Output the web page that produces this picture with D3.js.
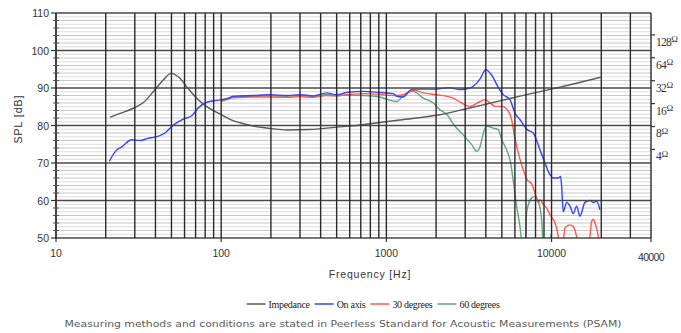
<!DOCTYPE html>
<html><head><meta charset="utf-8">
<script src="https://cdn.jsdelivr.net/npm/d3@7"></script>
<style>body{margin:0;background:#fff}svg{display:block}</style>
</head><body><svg id="c" width="681" height="333"></svg>
<script>
// ---- data ----
const xTickValues = [10, 100, 1000, 10000, 40000];
const yTickValues = [50, 60, 70, 80, 90, 100, 110];
const zTickValues = [4, 8, 16, 32, 64, 128];
const legendLabels = ["Impedance", "On axis", "30 degrees", "60 degrees"];

const impFreq = [21.2, 24.4, 29.4, 33.8, 38.8, 44.6, 49.7, 56.3, 61.8, 71.1, 81.7, 98.3, 113, 130, 156, 197, 249, 345, 500, 631, 796, 1209, 2100, 3100, 4050, 5865, 7400, 11240, 19820];
const impOhm  = [10.6, 11.9, 13.9, 16.5, 22.9, 32.7, 40.0, 34.4, 26.7, 18.8, 14.6, 11.7, 9.95, 8.97, 8.12, 7.57, 7.2, 7.3, 7.85, 8.15, 8.7, 9.75, 11.4, 13.8, 15.8, 19.1, 21.5, 26.3, 35.5];

const onFreq = [21, 22, 23.3, 25, 28.7, 32.3, 36.2, 39.7, 45.7, 51.3, 59, 66.3, 72.7, 81.7, 93.9, 110, 118, 156, 197, 249, 300, 361, 435, 500, 575, 725, 915, 1101, 1154, 1266, 1390, 1455, 2016, 2400, 2789, 3207, 3526, 3700, 4000, 4243, 4443, 4659, 4994, 5107, 5601, 6004, 6437, 7128, 7750, 8509, 9120, 9780, 10240, 10978, 11350, 11510, 11770, 12342, 12923, 13531, 14186, 14855, 15930, 17078, 17881, 18750, 19630];
const onDb   = [70.4, 72, 73.5, 74.3, 76.2, 76.0, 76.6, 76.9, 78.0, 80.1, 81.7, 82.6, 84.7, 86.2, 86.7, 87.1, 87.8, 88.0, 88.2, 88.0, 88.2, 87.9, 88.7, 88.2, 88.8, 89.1, 88.8, 88.5, 87.8, 87.6, 89.4, 89.7, 89.7, 90.1, 89.6, 90.0, 91.3, 92.5, 94.9, 94.0, 92.7, 90.9, 88.7, 88.2, 86.9, 83.3, 81.6, 78.9, 78.0, 73.5, 70.0, 66.9, 66.0, 66.0, 66.4, 63.8, 57.0, 59.5, 58.5, 56.5, 58.5, 55.8, 59.5, 60.0, 59.5, 59.8, 57.5];

const d30Freq = [100, 118, 156, 197, 249, 300, 361, 435, 500, 575, 725, 915, 1101, 1154, 1266, 1390, 1455, 1673, 2016, 2541, 2856, 3207, 3692, 3958, 4243, 4550, 4994, 5478, 5735, 5921, 6284, 6741, 7128, 7581, 7936, 8310, 8509, 8909, 9340, 9780, 10486, 10978, 11240, 11770, 12054, 12923, 13531, 14186, 14855, 16680, 17078, 17486, 17881, 18310, 19170, 19630];
const d30Db   = [86.4, 87.4, 87.6, 87.6, 87.5, 87.7, 87.5, 88.0, 87.9, 88.2, 88.5, 88.3, 88.0, 88.0, 88.2, 89.0, 89.4, 88.7, 88.2, 87.3, 86.0, 85.1, 86.4, 86.9, 86.0, 85.1, 85.1, 83.8, 81.5, 78.0, 72.7, 68.2, 65.5, 64.5, 62.0, 59.5, 60.2, 59.0, 58.0, 56.2, 54.0, 50.4, 46, 49, 52.7, 53.5, 53.1, 50.4, 46, 46, 50.4, 54.4, 55.0, 54.0, 50.4, 45];

const d60Freq = [100, 118, 156, 197, 249, 300, 361, 435, 500, 575, 725, 915, 1004, 1154, 1266, 1327, 1455, 1673, 1922, 2111, 2317, 2602, 2921, 3284, 3526, 3692, 3866, 4053, 4443, 4763, 4994, 5350, 5655, 5921, 6149, 6437, 6646, 6900, 7069, 7581, 7936, 8310, 8710, 8909, 9550, 9900, 10240];
const d60Db   = [86.8, 87.6, 87.8, 87.9, 87.8, 88.0, 87.8, 88.3, 88.0, 88.1, 88.0, 87.6, 87.0, 86.4, 88.0, 88.7, 89.1, 87.3, 86.0, 84.2, 83.0, 79.8, 77.5, 74.9, 73.1, 74.4, 78.0, 79.8, 79.3, 78.9, 76.2, 73.5, 70.0, 63.8, 58.4, 53.1, 48, 46, 57, 60.7, 61.1, 59.8, 54.9, 48, 46, 50.8, 45];

// ---- layout ----
const X0 = 56, X1 = 651, Y0 = 13, Y1 = 238;
const svg = d3.select("#c");
const x = d3.scaleLog().domain([10, 40000]).range([X0, X1]);
const y = d3.scaleLinear().domain([50, 110]).range([Y1, Y0]);
const yz = d3.scaleLog().base(2).domain([0.2737, 248.4]).range([Y1, Y0]);

svg.append("defs").append("clipPath").attr("id", "clip")
  .append("rect").attr("x", X0).attr("y", Y0).attr("width", X1 - X0).attr("height", Y1 - Y0);

// minor horizontal grid
const minor = d3.range(51, 110).filter(v => v % 10 !== 0);
svg.append("g").selectAll("line").data(minor).join("line")
  .attr("x1", X0).attr("x2", X1).attr("y1", d => y(d)).attr("y2", d => y(d))
  .attr("stroke", d => d % 2 === 0 ? "#c8c8c8" : "#dcdcdc").attr("stroke-width", 1);

// curves
const lineDb = d3.line().x(d => x(d[0])).y(d => y(d[1])).curve(d3.curveMonotoneX);
const lineZ = d3.line().x(d => x(d[0])).y(d => yz(d[1])).curve(d3.curveMonotoneX);
const curves = svg.append("g").attr("clip-path", "url(#clip)").attr("fill", "none");
const colors = { imp: "#5a5a5a", on: "#3344ff", d30: "#ff5a50", d60: "#5fa582" };
curves.append("path").attr("d", lineDb(d60Freq.map((f, i) => [f, d60Db[i]]))).attr("stroke", colors.d60).attr("stroke-width", 1.4);
curves.append("path").attr("d", lineDb(d30Freq.map((f, i) => [f, d30Db[i]]))).attr("stroke", colors.d30).attr("stroke-width", 1.4);
curves.append("path").attr("d", lineDb(onFreq.map((f, i) => [f, onDb[i]]))).attr("stroke", colors.on).attr("stroke-width", 1.4);
curves.append("path").attr("d", lineZ(impFreq.map((f, i) => [f, impOhm[i]]))).attr("stroke", colors.imp).attr("stroke-width", 1.4);

// major horizontal grid
svg.append("g").selectAll("line").data(yTickValues).join("line")
  .attr("x1", X0).attr("x2", X1).attr("y1", d => y(d)).attr("y2", d => y(d))
  .attr("stroke", "#4a4a4a").attr("stroke-width", 1.6);

// vertical grid
svg.append("g").selectAll("line").data(x.ticks()).join("line")
  .attr("x1", d => x(d)).attr("x2", d => x(d)).attr("y1", Y0).attr("y2", Y1)
  .attr("stroke", "#2a2a2a").attr("stroke-width", 1.4);

// left axis
const gl = svg.append("g");
gl.append("line").attr("x1", X0).attr("x2", X0).attr("y1", Y0).attr("y2", Y1 + 1).attr("stroke", "#333").attr("stroke-width", 1.4);
gl.selectAll("line.mt").data(d3.range(52, 110, 2).filter(v => v % 10 !== 0)).join("line").attr("class", "mt")
  .attr("x1", X0 - 3).attr("x2", X0 + 3).attr("y1", d => y(d)).attr("y2", d => y(d)).attr("stroke", "#555").attr("stroke-width", 1);
gl.selectAll("line.Mt").data(yTickValues).join("line").attr("class", "Mt")
  .attr("x1", X0 - 5).attr("x2", X0).attr("y1", d => y(d)).attr("y2", d => y(d)).attr("stroke", "#333").attr("stroke-width", 1.2);
gl.selectAll("text").data(yTickValues).join("text")
  .attr("x", X0 - 7).attr("y", d => y(d) + 4).attr("text-anchor", "end")
  .attr("font-family", "Liberation Sans, Arial, sans-serif").attr("font-size", 10.5).attr("fill", "#333")
  .text(d => d);

// bottom axis
const gb = svg.append("g");
gb.selectAll("line").data(xTickValues).join("line")
  .attr("x1", d => x(d)).attr("x2", d => x(d)).attr("y1", Y1).attr("y2", Y1 + 4).attr("stroke", "#333").attr("stroke-width", 1.2);
gb.selectAll("text").data(xTickValues).join("text")
  .attr("x", d => x(d)).attr("y", d => d === 40000 ? 261 : 257).attr("text-anchor", "middle")
  .attr("font-family", "Liberation Sans, Arial, sans-serif").attr("font-size", 10.5).attr("fill", "#333")
  .attr("letter-spacing", d => d === 40000 ? -0.6 : 0)
  .text(d => d);

// right axis
const gr = svg.append("g");
gr.selectAll("line").data(zTickValues).join("line")
  .attr("x1", X1).attr("x2", X1 + 4).attr("y1", d => yz(d)).attr("y2", d => yz(d)).attr("stroke", "#333").attr("stroke-width", 1.2);
const rt = gr.selectAll("text").data(zTickValues).join("text")
  .attr("x", X1 + 5).attr("y", d => yz(d) + 11)
  .attr("font-family", "Liberation Serif, Times New Roman, serif").attr("font-size", 11.5).attr("fill", "#333")
  .attr("letter-spacing", -0.8);
rt.append("tspan").text(d => d);
rt.append("tspan").attr("font-size", 9).attr("dy", -3.5).attr("dx", 0.5).text("\u03A9");

// axis titles
svg.append("text").attr("transform", "translate(22,119) rotate(-90)").attr("text-anchor", "middle")
  .attr("font-family", "Liberation Sans, Arial, sans-serif").attr("font-size", 10.5).attr("fill", "#333")
  .attr("letter-spacing", 1).text("SPL [dB]");
svg.append("text").attr("x", 370).attr("y", 278).attr("text-anchor", "middle")
  .attr("font-family", "Liberation Sans, Arial, sans-serif").attr("font-size", 10.5).attr("fill", "#333")
  .attr("letter-spacing", 0.8).text("Frequency [Hz]");

// legend
const legColors = [colors.imp, colors.on, colors.d30, colors.d60];
const lg = svg.append("g");
const LY = 304;
let items = legendLabels.map((t, i) => {
  const g = lg.append("g");
  g.append("line").attr("x1", 0).attr("x2", 19).attr("y1", LY).attr("y2", LY).attr("stroke", legColors[i]).attr("stroke-width", 1.5);
  const tx = g.append("text").attr("x", 22).attr("y", LY + 3.5)
    .attr("font-family", "Liberation Serif, Times New Roman, serif").attr("font-size", 10).attr("fill", "#222")
    .attr("letter-spacing", -0.3).text(t);
  return { g, w: 22 + tx.node().getComputedTextLength() };
});
const gap = 5;
const total = d3.sum(items, d => d.w) + gap * (items.length - 1);
let cx = 373 - total / 2;
items.forEach(it => { it.g.attr("transform", `translate(${cx},0)`); cx += it.w + gap; });

// footnote
svg.append("text").attr("x", 343).attr("y", 327).attr("text-anchor", "middle")
  .attr("font-family", "DejaVu Sans, Verdana, sans-serif").attr("font-size", 9.5).attr("fill", "#5a5a5a")
  .attr("textLength", 557).attr("lengthAdjust", "spacingAndGlyphs")
  .text("Measuring methods and conditions are stated in Peerless Standard for Acoustic Measurements (PSAM)");
</script></body></html>
